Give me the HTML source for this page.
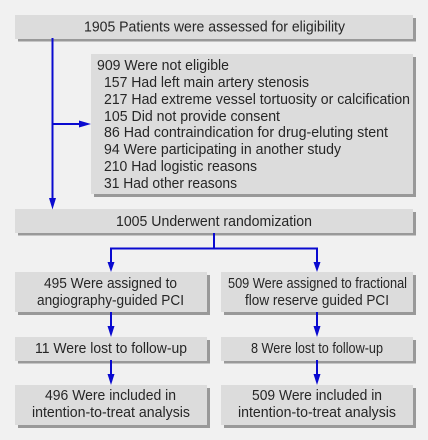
<!DOCTYPE html>
<html>
<head>
<meta charset="utf-8">
<style>
html,body{margin:0;padding:0;background:#f1f1f1;}
svg{display:block;}
text{font-family:"Liberation Sans",sans-serif;font-size:14.5px;fill:#262626;}
.box{fill:#dcdcdc;}
.shadow{fill:#999;}
.wire{stroke:#0a0ad0;stroke-width:2;fill:none;}
.head{fill:#0a0ad0;}
</style>
</head>
<body>
<svg width="428" height="440" viewBox="0 0 428 440" xmlns="http://www.w3.org/2000/svg">
  <rect x="0" y="0" width="428" height="440" fill="#f1f1f1"/>

  <g>
    <rect class="shadow" x="18" y="18" width="398" height="23.5"/>
    <rect class="box" x="15" y="15" width="398" height="24"/>
    <text x="84" y="31.5" textLength="261" lengthAdjust="spacingAndGlyphs">1905 Patients were assessed for eligibility</text>
  </g>

  <g>
    <rect class="shadow" x="94" y="57" width="322" height="140"/>
    <rect class="box" x="91" y="54" width="322" height="140"/>
    <text x="97" y="70" textLength="132" lengthAdjust="spacingAndGlyphs">909 Were not eligible</text>
    <text x="104" y="87" textLength="205" lengthAdjust="spacingAndGlyphs">157 Had left main artery stenosis</text>
    <text x="104" y="104" textLength="306" lengthAdjust="spacingAndGlyphs">217 Had extreme vessel tortuosity or calcification</text>
    <text x="104" y="121" textLength="176" lengthAdjust="spacingAndGlyphs">105 Did not provide consent</text>
    <text x="104" y="137" textLength="284" lengthAdjust="spacingAndGlyphs">86 Had contraindication for drug-eluting stent</text>
    <text x="104" y="154" textLength="237" lengthAdjust="spacingAndGlyphs">94 Were participating in another study</text>
    <text x="104" y="171" textLength="153" lengthAdjust="spacingAndGlyphs">210 Had logistic reasons</text>
    <text x="104" y="188" textLength="133" lengthAdjust="spacingAndGlyphs">31 Had other reasons</text>
  </g>

  <g>
    <rect class="shadow" x="18" y="212" width="398" height="23.5"/>
    <rect class="box" x="15" y="209" width="398" height="24"/>
    <text x="116" y="226" textLength="196" lengthAdjust="spacingAndGlyphs">1005 Underwent randomization</text>
  </g>

  <g>
    <rect class="shadow" x="18" y="275" width="192" height="40"/>
    <rect class="box" x="15" y="272" width="192" height="40"/>
    <text x="44" y="288" textLength="133" lengthAdjust="spacingAndGlyphs">495 Were assigned to</text>
    <text x="37" y="305" textLength="147" lengthAdjust="spacingAndGlyphs">angiography-guided PCI</text>
  </g>
  <g>
    <rect class="shadow" x="224" y="275" width="192" height="40"/>
    <rect class="box" x="221" y="272" width="192" height="40"/>
    <text x="228" y="288" textLength="179" lengthAdjust="spacingAndGlyphs">509 Were assigned to fractional</text>
    <text x="245" y="305" textLength="144" lengthAdjust="spacingAndGlyphs">flow reserve guided PCI</text>
  </g>

  <g>
    <rect class="shadow" x="18" y="340" width="192" height="23.5"/>
    <rect class="box" x="15" y="337" width="192" height="24"/>
    <text x="35" y="353" textLength="152" lengthAdjust="spacingAndGlyphs">11 Were lost to follow-up</text>
  </g>
  <g>
    <rect class="shadow" x="224" y="340" width="192" height="23.5"/>
    <rect class="box" x="221" y="337" width="192" height="24"/>
    <text x="251" y="353" textLength="132" lengthAdjust="spacingAndGlyphs">8 Were lost to follow-up</text>
  </g>

  <g>
    <rect class="shadow" x="18" y="388" width="192" height="40"/>
    <rect class="box" x="15" y="385" width="192" height="40"/>
    <text x="45" y="400" textLength="131" lengthAdjust="spacingAndGlyphs">496 Were included in</text>
    <text x="32" y="417" textLength="158" lengthAdjust="spacingAndGlyphs">intention-to-treat analysis</text>
  </g>
  <g>
    <rect class="shadow" x="224" y="388" width="192" height="40"/>
    <rect class="box" x="221" y="385" width="192" height="40"/>
    <text x="252" y="400" textLength="130" lengthAdjust="spacingAndGlyphs">509 Were included in</text>
    <text x="238" y="417" textLength="158" lengthAdjust="spacingAndGlyphs">intention-to-treat analysis</text>
  </g>

  <g>
    <path class="wire" d="M52.5 38V200"/>
    <polygon class="head" points="49,198 56,198 52.5,209.5"/>
  </g>
  <g>
    <path class="wire" d="M52 124H81"/>
    <polygon class="head" points="79,120.5 79,127.5 91,124"/>
  </g>
  <g>
    <path class="wire" d="M214 233V248.5M111 264V248.5H317V264"/>
    <polygon class="head" points="107.500,262 114.500,262 111,272"/>
    <polygon class="head" points="313.500,262 320.500,262 317,272"/>
  </g>
  <g>
    <path class="wire" d="M111 312V329M111 360V377"/>
    <polygon class="head" points="107.500,326 114.500,326 111,337"/>
    <polygon class="head" points="107.500,374 114.500,374 111,385"/>
  </g>
  <g>
    <path class="wire" d="M317 312V329M317 360V377"/>
    <polygon class="head" points="313.500,326 320.500,326 317,337"/>
    <polygon class="head" points="313.500,374 320.500,374 317,385"/>
  </g>
</svg>
</body>
</html>
